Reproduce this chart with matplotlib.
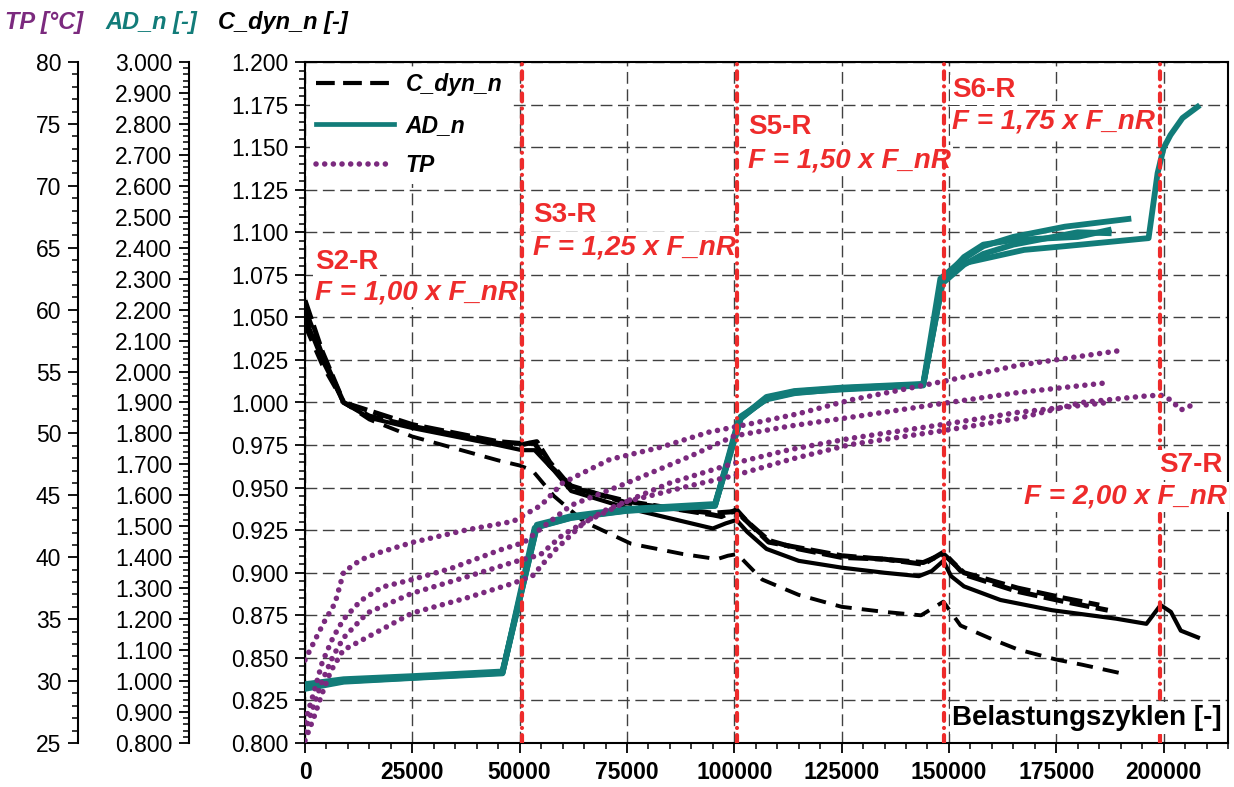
import numpy as np
import matplotlib.pyplot as plt
from matplotlib.ticker import MultipleLocator, FormatStrFormatter
from matplotlib.lines import Line2D

plt.rcParams['font.family'] = ['Liberation Sans', 'DejaVu Sans']

BLACK = '#000000'
TEAL = '#127C79'
PURPLE = '#7B2A7E'
RED = '#EE2B2B'

# === C_dyn_n, 4 Proben ===
cdyn_x1 = [0, 4000, 9000, 15000, 25000, 35000, 45000, 50500, 53500, 58000, 62000, 75000, 85000, 95000,
           98000, 100500, 103000, 107500, 115000, 125000, 135000, 143000, 146000, 148700, 150500, 153500,
           162000, 174000, 189000, 196000, 199300, 201700, 204000, 208000]
cdyn_y1 = [1.050, 1.025, 1.000, 0.991, 0.985, 0.980, 0.975, 0.972, 0.972, 0.960, 0.948, 0.938, 0.932, 0.926,
           0.929, 0.931, 0.924, 0.914, 0.907, 0.903, 0.900, 0.898, 0.901, 0.907, 0.898, 0.892,
           0.884, 0.878, 0.873, 0.870, 0.881, 0.877, 0.866, 0.862]

cdyn_x2 = [0, 4000, 9000, 15000, 25000, 35000, 45000, 50000, 53000, 58000, 65000, 76000, 88000, 96000,
           98500, 100700, 103000, 106500, 115000, 125000, 135000, 143500, 148700, 152700, 160000, 166000,
           175000, 181000, 190000]
cdyn_y2 = [1.045, 1.022, 1.000, 0.990, 0.980, 0.973, 0.966, 0.963, 0.960, 0.945, 0.930, 0.917, 0.911, 0.908,
           0.910, 0.911, 0.905, 0.896, 0.887, 0.880, 0.877, 0.875, 0.883, 0.869, 0.861, 0.855,
           0.849, 0.846, 0.841]

cdyn_x3 = [0, 4000, 9000, 15000, 25000, 35000, 45000, 50000, 54000, 57000, 62000, 75000, 85000, 95000,
           97000, 100500, 103000, 108000, 115000, 125000, 135000, 144000, 148700, 153500, 166000, 177000, 187000]
cdyn_y3 = [1.060, 1.030, 1.000, 0.992, 0.986, 0.981, 0.976, 0.975, 0.977, 0.965, 0.950, 0.942, 0.938, 0.934,
           0.933, 0.937, 0.930, 0.919, 0.914, 0.909, 0.908, 0.905, 0.912, 0.899, 0.889, 0.883, 0.878]

cdyn_x4 = [0, 4000, 9000, 25000, 45000, 50000, 53500, 57000, 62000, 75000, 95000, 100500, 108000, 125000,
           144000, 148700, 153500, 166000, 177000, 185000]
cdyn_y4 = [1.055, 1.028, 1.000, 0.987, 0.977, 0.976, 0.976, 0.963, 0.951, 0.941, 0.935, 0.936, 0.918, 0.910,
           0.906, 0.911, 0.900, 0.891, 0.885, 0.881]

# === AD_n ===
ad_x1 = [0, 9000, 25000, 46000, 54000, 62000, 75000, 95500, 101500, 107500, 114000, 125000, 144000, 148500,
         153500, 167500, 177000, 196500, 198600, 200000, 201600, 204400, 207900]
ad_y1 = [0.985, 1.003, 1.013, 1.028, 1.500, 1.530, 1.552, 1.568, 1.850, 1.912, 1.932, 1.942, 1.955, 2.290,
         2.350, 2.393, 2.405, 2.431, 2.641, 2.722, 2.764, 2.819, 2.855]

ad_x2 = [0, 9000, 25000, 46000, 53500, 62000, 75000, 95500, 101000, 107500, 114000, 125000, 144000, 148000,
         153500, 158000, 165000, 177000, 191800]
ad_y2 = [0.975, 0.998, 1.010, 1.025, 1.495, 1.527, 1.550, 1.566, 1.845, 1.918, 1.937, 1.948, 1.960, 2.300,
         2.365, 2.405, 2.435, 2.468, 2.493]

ad_x3 = [0, 9000, 25000, 46000, 54000, 62000, 75000, 95500, 101500, 107500, 114000, 125000, 144000, 148500,
         153500, 158000, 165000, 180000, 187200]
ad_y3 = [0.990, 1.006, 1.016, 1.031, 1.505, 1.533, 1.556, 1.572, 1.855, 1.910, 1.930, 1.944, 1.957, 2.285,
         2.345, 2.380, 2.410, 2.450, 2.447]

ad_x4 = [0, 9000, 25000, 46000, 54000, 62000, 75000, 95500, 101500, 107500, 114000, 125000, 144000, 148500,
         153500, 158000, 165000, 180000, 187200]
ad_y4 = [0.980, 1.000, 1.011, 1.027, 1.498, 1.528, 1.551, 1.567, 1.848, 1.915, 1.935, 1.946, 1.958, 2.295,
         2.370, 2.410, 2.425, 2.435, 2.457]

# === TP [°C] ===
tp_x1 = [0, 2300, 4500, 7000, 9000, 13000, 17500, 25000, 37500, 48500, 55000, 60000, 71000, 83000, 94000,
         104000, 115000, 127000, 140000, 150000, 166000, 180000, 190000]
tp_y1 = [31.7, 33.3, 34.8, 36.3, 38.8, 39.8, 40.4, 41.2, 42.2, 42.9, 44.2, 46.0, 47.9, 48.9, 50.1,
         50.8, 51.6, 52.7, 53.6, 54.3, 55.5, 56.2, 56.7]

tp_x2 = [0, 2000, 4000, 6500, 9000, 13000, 18000, 25000, 34000, 45500, 51000, 56000, 62000, 75000, 90000,
         100000, 113000, 127000, 150000, 166000, 187000]
tp_y2 = [26.7, 29.0, 31.5, 33.5, 35.0, 36.5, 37.6, 38.2, 39.1, 40.6, 41.2, 42.6, 44.2, 46.0, 48.2,
         49.8, 50.6, 51.3, 52.5, 53.3, 54.1]

tp_x3 = [0, 2000, 4000, 6500, 9000, 14500, 25000, 37500, 48500, 54800, 60000, 70000, 85000, 100000,
         113000, 127000, 150000, 166000, 187000]
tp_y3 = [25.9, 28.0, 30.0, 32.0, 33.5, 35.5, 37.1, 38.4, 39.6, 40.2, 41.8, 43.8, 46.0, 47.6,
         48.7, 49.6, 50.8, 51.7, 52.5]

tp_x4 = [0, 2000, 4000, 6000, 8900, 17500, 25000, 37500, 48500, 53000, 58000, 65000, 75000, 90000, 100000,
         113000, 127000, 150000, 166000, 181000, 195000, 199300, 201700, 204000, 205600, 207000]
tp_y4 = [25.2, 27.0, 29.0, 30.8, 32.5, 34.1, 35.5, 36.7, 37.9, 38.5, 40.5, 42.8, 44.5, 45.8, 46.6,
         47.9, 49.1, 50.3, 51.2, 52.5, 53.0, 53.1, 52.7, 51.9, 52.1, 52.4]

# Laststufen
stage_x = [50500, 100600, 148800, 199100]
stage_names = ['S2-R', 'S3-R', 'S5-R', 'S6-R', 'S7-R']
stage_forces = ['F = 1,00 x F_nR', 'F = 1,25 x F_nR', 'F = 1,50 x F_nR', 'F = 1,75 x F_nR', 'F = 2,00 x F_nR']

# ---------------------------------------------------------------
fig = plt.figure(figsize=(12.34, 7.87), dpi=100)
ax = fig.add_axes([305 / 1234, 1 - 743 / 787, 923 / 1234, 681 / 787])
ax_ad = ax.twinx()
ax_tp = ax.twinx()

FS = 16.5

# Hauptachse C_dyn_n
ax.set_xlim(0, 215000)
ax.set_ylim(0.8, 1.2)
ax.xaxis.set_major_locator(MultipleLocator(25000))
ax.xaxis.set_minor_locator(MultipleLocator(5000))
ax.yaxis.set_major_locator(MultipleLocator(0.025))
ax.yaxis.set_minor_locator(MultipleLocator(0.005))
ax.yaxis.set_major_formatter(FormatStrFormatter('%.3f'))
ax.xaxis.set_major_formatter(FormatStrFormatter('%d'))
ax.tick_params(axis='y', which='major', length=7, width=1.3, labelsize=FS, pad=5)
ax.tick_params(axis='y', which='minor', length=4, width=1.1)
ax.tick_params(axis='x', which='major', length=7, width=1.3, labelsize=FS, pad=6)
ax.tick_params(axis='x', which='minor', length=4, width=1.1)
for lab in ax.get_xticklabels():
    lab.set_fontweight('bold')
for s in ax.spines.values():
    s.set_linewidth(1.5)
ax.grid(True, which='major', color='#404040', lw=1.0, linestyle=(0, (8.5, 4)))
ax.set_axisbelow(True)

# Zusatzachsen links
for a, pos, lo, hi, major, minor, fmt in [(ax_ad, -116 / 923, 0.8, 3.0, 0.1, 0.02, '%.3f'),
                                          (ax_tp, -227 / 923, 25, 80, 5, 1, '%d')]:
    a.set_ylim(lo, hi)
    a.spines['right'].set_visible(False)
    a.spines['top'].set_visible(False)
    a.spines['bottom'].set_visible(False)
    a.spines['left'].set_visible(True)
    a.spines['left'].set_position(('axes', pos))
    a.spines['left'].set_linewidth(1.5)
    a.yaxis.set_ticks_position('left')
    a.yaxis.set_label_position('left')
    a.yaxis.set_major_locator(MultipleLocator(major))
    a.yaxis.set_minor_locator(MultipleLocator(minor))
    a.yaxis.set_major_formatter(FormatStrFormatter(fmt))
    a.tick_params(axis='y', which='major', length=7, width=1.3, labelsize=FS, pad=5)
    a.tick_params(axis='y', which='minor', length=4, width=1.1)

# Kurven
ax.plot(cdyn_x2, cdyn_y2, color=BLACK, lw=2.8, linestyle=(0, (4.2, 2.6)))
ax.plot(cdyn_x3, cdyn_y3, color=BLACK, lw=3.6, linestyle=(0, (4, 1.3)))
ax.plot(cdyn_x4, cdyn_y4, color=BLACK, lw=3.6, linestyle=(0, (4, 1.3)))
ax.plot(cdyn_x1, cdyn_y1, color=BLACK, lw=3.0, linestyle='-')

for xs, ys in [(ad_x1, ad_y1), (ad_x2, ad_y2), (ad_x3, ad_y3), (ad_x4, ad_y4)]:
    ax_ad.plot(xs, ys, color=TEAL, lw=4.2, solid_joinstyle='round')

dot_style = (0, (0.01, 1.55))
for xs, ys in [(tp_x1, tp_y1), (tp_x2, tp_y2), (tp_x3, tp_y3), (tp_x4, tp_y4)]:
    ax_tp.plot(xs, ys, color=PURPLE, lw=4.0, linestyle=dot_style, dash_capstyle='round')

# Stufengrenzen
for xv in stage_x:
    ax_tp.axvline(xv, color=RED, lw=3.0, linestyle=(0, (1.9, 1.7, 0.01, 1.7)),
                  dash_capstyle='round', zorder=4)

txt_kw = dict(color=RED, fontsize=20, fontweight='bold', va='center', transform=ax.transData,
              bbox=dict(facecolor='white', edgecolor='none', pad=1.5))
label_pos = [(2300, 1.0825, 1.0649, 'left'), (53150, 1.1101, 1.0913, 'left'),
             (103260, 1.1618, 1.1424, 'left'), (150800, 1.1836, 1.1653, 'left')]
for (xl, y1, y2, ha), nm, fr in zip(label_pos, stage_names[:4], stage_forces[:4]):
    ax_tp.text(xl, y1, nm, ha=ha, zorder=3, **txt_kw)
    ax_tp.text(xl, y2, fr, ha=ha, style='italic', zorder=3, **txt_kw)
ax_tp.text(213750, 0.9633, stage_names[4], ha='right', zorder=5, **txt_kw)
ax_tp.text(214700, 0.9445, stage_forces[4], ha='right', style='italic', zorder=5, **txt_kw)

ax_tp.text(0.9935, 0.018, 'Belastungszyklen [-]', transform=ax.transAxes, ha='right', va='bottom',
           fontsize=20, fontweight='bold', zorder=5,
           bbox=dict(facecolor='white', edgecolor='none', pad=2))

# Legende
handles = [Line2D([], [], color=BLACK, lw=3.0, linestyle=(0, (4.5, 2))),
           Line2D([], [], color=TEAL, lw=3.4),
           Line2D([], [], color=PURPLE, lw=4.0, linestyle=dot_style, dash_capstyle='round')]
leg = ax_tp.legend(handles, ['C_dyn_n', 'AD_n', 'TP'], loc='upper left', bbox_to_anchor=(0.0, 1.0),
                   frameon=True, fancybox=False, edgecolor='none', facecolor='white', framealpha=1,
                   handlelength=3.4, handletextpad=0.5, labelspacing=0.75, borderpad=0.3,
                   borderaxespad=0.2, prop=dict(size=FS, weight='bold', style='italic'))
leg.set_zorder(6)

# Achsentitel oben
fig.text(5 / 1234, 1 - 22 / 787, 'TP [°C]', color=PURPLE, fontsize=17, fontweight='bold',
         style='italic', va='center', ha='left')
fig.text(105 / 1234, 1 - 22 / 787, 'AD_n [-]', color=TEAL, fontsize=17, fontweight='bold',
         style='italic', va='center', ha='left')
fig.text(218 / 1234, 1 - 22 / 787, 'C_dyn_n [-]', color=BLACK, fontsize=17, fontweight='bold',
         style='italic', va='center', ha='left')

fig.savefig('out.png', dpi=100)
